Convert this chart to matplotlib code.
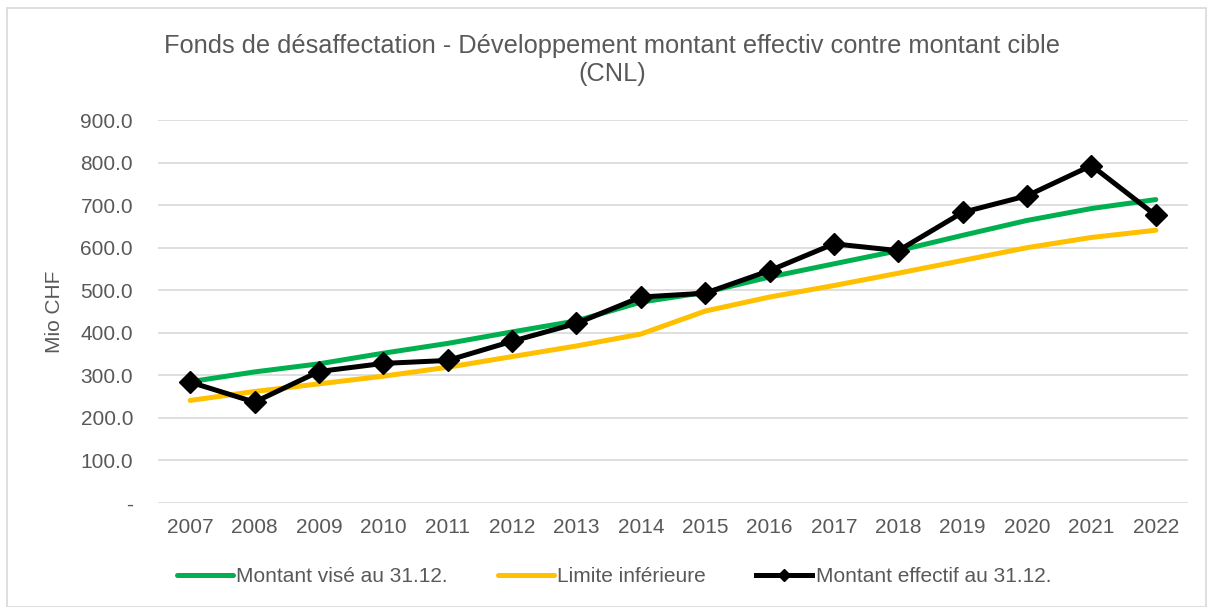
import numpy as np
import matplotlib.pyplot as plt
from matplotlib.patches import Rectangle
from matplotlib.ticker import FuncFormatter

# valeurs (Mio CHF)
years = ['2007', '2008', '2009', '2010', '2011', '2012', '2013', '2014',
         '2015', '2016', '2017', '2018', '2019', '2020', '2021', '2022']
montant_vise = [285, 308, 327, 352, 375, 402, 428, 472,
                495, 531, 562, 593, 629, 664, 692, 713]
limite_inf = [241, 262, 280, 298, 319, 344, 369, 397,
              451, 484, 511, 540, 570, 600, 624, 641]
montant_effectif = [284, 237, 309, 328, 335, 380, 422, 484,
                    493, 546, 609, 593, 683, 722, 793, 676]

grey = '#595959'
plt.rcParams['font.family'] = ['Liberation Sans', 'DejaVu Sans']
fs = 15

fig = plt.figure(figsize=(12.13, 6.07), dpi=100)
ax = fig.add_axes([158 / 1213, 1 - 503 / 607, 1030 / 1213, 383 / 607])

x = np.arange(len(years))
ax.plot(x, montant_vise, color='#00B050', lw=3.6, solid_capstyle='round',
        label='Montant visé au 31.12.', zorder=3)
ax.plot(x, limite_inf, color='#FFC000', lw=3.6, solid_capstyle='round',
        label='Limite inférieure', zorder=3)
ax.plot(x, montant_effectif, color='black', lw=3.6, marker='D', ms=11,
        label='Montant effectif au 31.12.', zorder=4)

ax.set_xlim(-0.5, len(years) - 0.5)
ax.set_ylim(0, 900)
ax.set_yticks(np.arange(0, 901, 100))
ax.yaxis.set_major_formatter(FuncFormatter(lambda v, p: '-' if v == 0 else f'{v:.1f}'))
ax.set_xticks(x)
ax.set_xticklabels(years)
ax.grid(axis='y', color='#d9d9d9', lw=1.2)
ax.set_axisbelow(True)
for s in ax.spines.values():
    s.set_visible(False)
ax.tick_params(length=0, colors=grey, labelsize=fs)
ax.tick_params(axis='x', pad=11)
ax.tick_params(axis='y', pad=18)
ax.set_ylabel('Mio CHF', color=grey, fontsize=fs, labelpad=12)

fig.text(612 / 1213, 1 - 60 / 607,
         'Fonds de désaffectation - Développement montant effectiv contre montant cible\n(CNL)',
         ha='center', va='center', color=grey, fontsize=18.3, linespacing=1.25)

leg = fig.legend(loc='center left', bbox_to_anchor=(177 / 1213, 1 - 577 / 607), ncol=3,
                 frameon=False, fontsize=fs, handlelength=2.7, handletextpad=0.15,
                 columnspacing=2.4, borderpad=0, borderaxespad=0, markerscale=0.6)
for t in leg.get_texts():
    t.set_color(grey)

fig.patches.append(Rectangle((7 / 1213, 0), 1 - 14 / 1213, 1 - 8 / 607, transform=fig.transFigure,
                             fill=False, edgecolor='#d9d9d9', lw=1.2))

fig.savefig('out.png', dpi=100)
